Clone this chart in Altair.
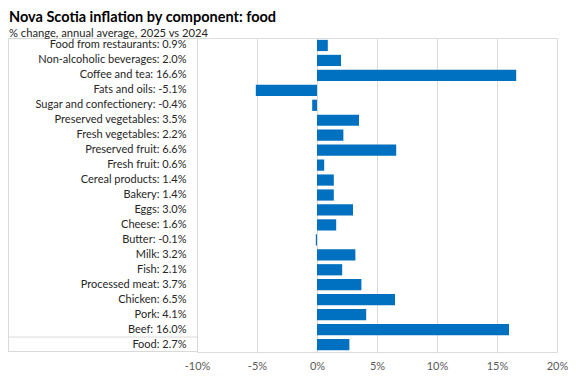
import altair as alt
import pandas as pd

categories = [
    "Food from restaurants", "Non-alcoholic beverages", "Coffee and tea", "Fats and oils",
    "Sugar and confectionery", "Preserved vegetables", "Fresh vegetables", "Preserved fruit",
    "Fresh fruit", "Cereal products", "Bakery", "Eggs", "Cheese", "Butter", "Milk", "Fish",
    "Processed meat", "Chicken", "Pork", "Beef", "Food",
]
values = [0.9, 2.0, 16.6, -5.1, -0.4, 3.5, 2.2, 6.6, 0.6, 1.4, 1.4, 3.0, 1.6, -0.1, 3.2, 2.1,
          3.7, 6.5, 4.1, 16.0, 2.7]
x_ticks = [-10, -5, 0, 5, 10, 15, 20]
title_text = "Nova Scotia inflation by component: food"
subtitle_text = "% change, annual average, 2025 vs 2024"

labels = [f"{c}: {v:.1f}%" for c, v in zip(categories, values)]
df = pd.DataFrame({"label": labels, "value": values})

FONT = "Lato"
W, H = 360, 314
GRID = "#d9d9d9"

bars = alt.Chart(df).mark_bar(color="#0070c0").encode(
    x=alt.X("value:Q",
            scale=alt.Scale(domain=[-10, 20], nice=False, zero=False),
            axis=alt.Axis(values=x_ticks, labelExpr="datum.value + '%'", title=None,
                          grid=True, gridColor=GRID, ticks=False, domain=False,
                          labelFlush=False,
                          labelFont=FONT, labelFontSize=11, labelColor="#595959",
                          labelPadding=8)),
    y=alt.Y("label:N", sort=labels,
            scale=alt.Scale(paddingInner=0.25, paddingOuter=0.125),
            axis=alt.Axis(title=None, ticks=False, domain=False, grid=False,
                          labelFont=FONT, labelFontSize=11, labelColor="#262626",
                          labelPadding=11, labelLimit=300)),
)

box_lines = pd.DataFrame({"k": [0]})
base = alt.Chart(box_lines)
top_line = base.mark_rule(color=GRID, strokeWidth=1).encode(
    x=alt.value(-188), x2=alt.value(0), y=alt.value(0.5))
bottom_line = base.mark_rule(color=GRID, strokeWidth=1).encode(
    x=alt.value(-188), x2=alt.value(0), y=alt.value(H - 0.5))
sep_line = base.mark_rule(color=GRID, strokeWidth=1).encode(
    x=alt.value(-188), x2=alt.value(0), y=alt.value(H - H / 21))
left_line = base.mark_rule(color=GRID, strokeWidth=1).encode(
    x=alt.value(-188.5), y=alt.value(0), y2=alt.value(H))

title_mark = base.mark_text(font=FONT, fontSize=14.5, fontWeight="bold", color="#000000",
                            align="left", baseline="alphabetic").encode(
    x=alt.value(-188), y=alt.value(-15.8), text=alt.value(title_text))
subtitle_mark = base.mark_text(font=FONT, fontSize=11.2, color="#262626",
                               align="left", baseline="alphabetic").encode(
    x=alt.value(-188), y=alt.value(-1.5), text=alt.value(subtitle_text))

chart = alt.layer(
    bars, top_line, bottom_line, sep_line, left_line,
    title_mark, subtitle_mark,
).properties(
    width=W, height=H,
    autosize=alt.AutoSizeParams(type="none"),
    padding={"left": 189, "top": 30, "right": 11, "bottom": 20},
).configure_view(stroke=None).configure(background="white")

chart.save("out.html", embed_options={"renderer": "svg", "actions": False})
